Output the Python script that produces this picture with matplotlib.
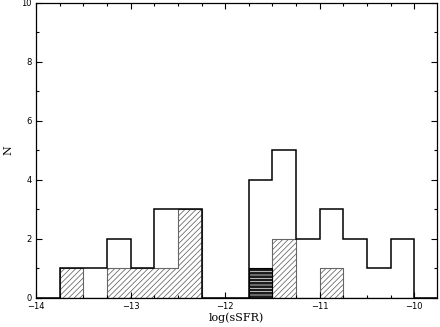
import matplotlib
matplotlib.use("Agg")
import matplotlib.pyplot as plt
import numpy as np

# bin edges (width 0.25 dex) and counts
edges = np.arange(-14.0, -9.75 + 0.001, 0.25)
all_counts = [0, 1, 1, 2, 1, 3, 3, 0, 0, 4, 5, 2, 3, 2, 1, 2, 0]
hatch_counts = [0, 1, 0, 1, 1, 1, 3, 0, 0, 0, 2, 0, 1, 0, 0, 0, 0]
dense_counts = [0, 0, 0, 0, 0, 0, 0, 0, 0, 1, 0, 0, 0, 0, 0, 0, 0]

plt.rcParams['hatch.linewidth'] = 0.5

fig = plt.figure(figsize=(4.4, 3.27), dpi=100)
ax = fig.add_axes([0.082, 0.089, 0.911, 0.902])

# diagonal hatched subsample
ax.stairs(hatch_counts, edges, fill=True, facecolor='white',
          edgecolor='#555555', hatch='//////', linewidth=0.6)
ax.stairs(hatch_counts, edges, color='#666666', linewidth=0.8)
# dense horizontal hatched subsample
ax.stairs(dense_counts, edges, fill=True, facecolor='#1a1a1a',
          edgecolor='white', hatch='-----', linewidth=0)
ax.stairs(dense_counts, edges, color='black', linewidth=0.8)
# full sample outline
ax.stairs(all_counts, edges, color='black', linewidth=1.1)

ax.set_xlim(-14, -9.76)
ax.set_ylim(0, 10)
ax.set_xticks([-14, -13, -12, -11, -10])
ax.set_xticklabels(['\u221214', '\u221213', '\u221212', '\u221211', '\u221210'])
ax.set_xticks(np.arange(-14, -9.75, 0.25), minor=True)
ax.set_yticks([0, 2, 4, 6, 8, 10])
ax.set_yticks(np.arange(0, 11, 1), minor=True)
ax.tick_params(which='both', direction='in', top=True, right=True,
               labelsize=6, width=0.8, pad=3)
ax.tick_params(which='major', length=4)
ax.tick_params(which='minor', length=2)
for s in ax.spines.values():
    s.set_linewidth(0.9)

ax.set_xlabel('log(sSFR)', family='DejaVu Serif', fontsize=8, labelpad=1)
ax.set_ylabel('N', family='DejaVu Serif', fontsize=8, labelpad=6)

fig.savefig('out.png', dpi=100)
